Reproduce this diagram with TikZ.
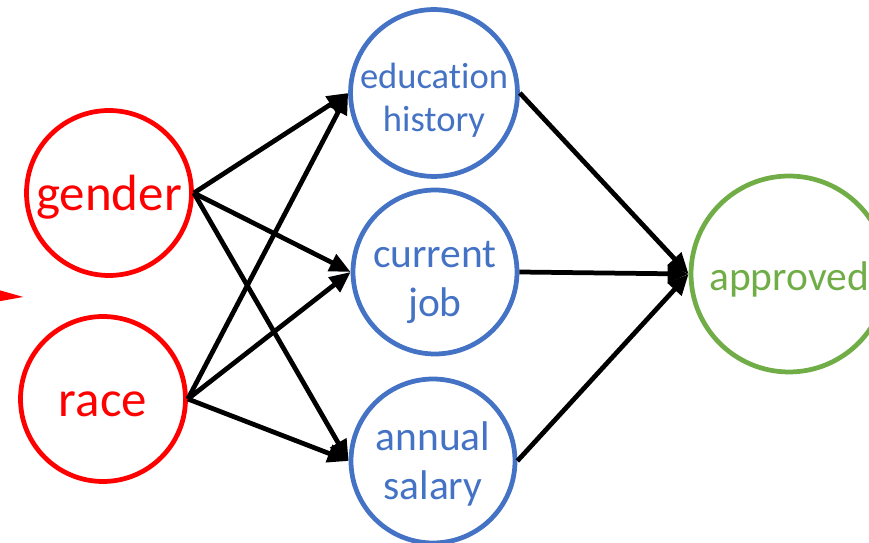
\documentclass[tikz,border=0pt]{standalone}
\usepackage{fontspec}
\setmainfont{Carlito}[Ligatures=NoCommon]
\usetikzlibrary{arrows.meta}
\definecolor{causered}{RGB}{255,0,0}
\definecolor{midblue}{RGB}{68,114,196}
\definecolor{outgreen}{RGB}{112,173,71}

\begin{document}
\begin{tikzpicture}[x=0.02cm,y=-0.02cm,
    var/.style={circle,draw,line width=0.095cm,inner sep=0pt,align=center},
    cause/.style={var,causered,text=causered,minimum size=3.3cm,text height=0.7cm,text depth=0cm,font=\fontsize{29}{35}\selectfont},
    mediator/.style={var,midblue,text=midblue,minimum size=3.28cm,text height=1.56cm,text depth=0cm,font=\fontsize{23.6}{28.3}\selectfont},
    outcome/.style={var,outgreen,text=outgreen,minimum size=3.92cm,text height=0.66cm,text depth=0cm,font=\fontsize{23.6}{28.3}\selectfont},
    edge/.style={black,line width=0.095cm,-{Triangle[length=0.42cm,width=0.36cm]}}]
      \useasboundingbox (0,0) rectangle (869,543);
      \clip (0,0) rectangle (869,543);
      \path (109,193) node[cause] (gender) {gender};
      \path (103,399) node[cause] (race) {race};
      \path (434,93) node[mediator,font=\fontsize{20.8}{24.9}\selectfont] (edu) {education\\history};
      \path (435,272) node[mediator,text height=1.8cm] (job) {current\\job};
      \path (433,461) node[mediator] (salary) {annual\\salary};
      \path (789,274) node[outcome] (approved) {approved};
      % arrow coming in from the left, only its tip shows
      \coordinate (from) at (-120,290);
      \coordinate (tip) at (24,297);
      \draw[causered,line width=0.08cm,-{Triangle[length=0.8cm,width=0.34cm]}] (from) -- (tip);
      \foreach \a in {gender,race}
        \foreach \b in {edu,job,salary}
          \draw[edge] (\a.east) -- (\b.west);
      \foreach \b in {edu,job,salary}
        \draw[edge] (\b.east) -- (approved.west);
    \end{tikzpicture}
\end{document}
